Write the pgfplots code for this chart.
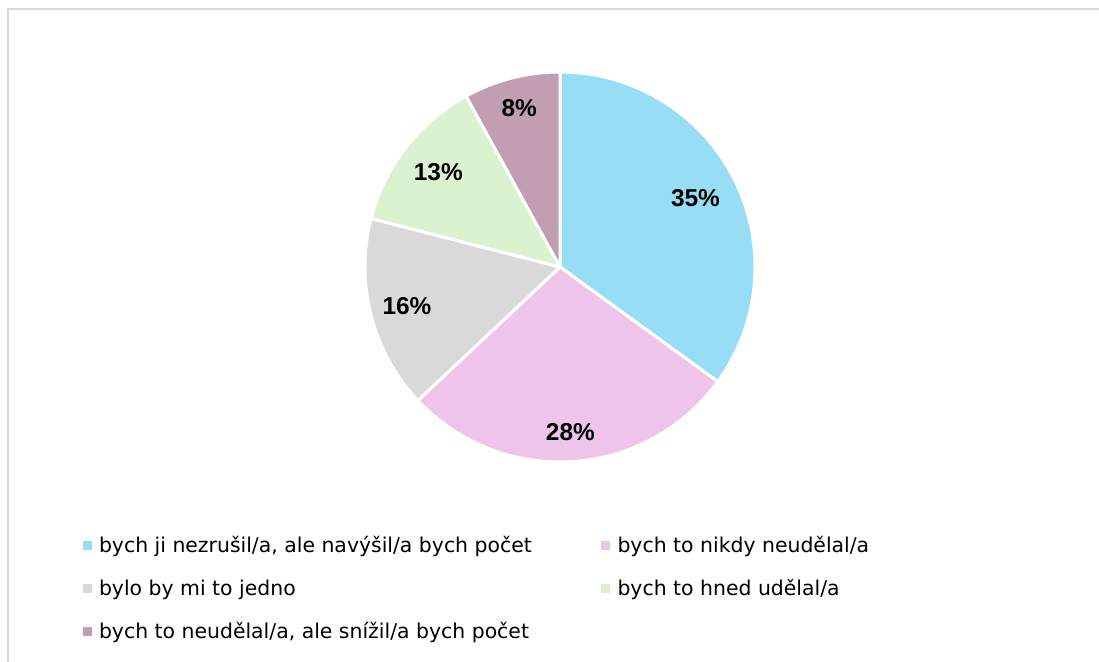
\documentclass[border=0pt]{standalone}
\usepackage{fontspec}
\setmainfont{Liberation Sans}
\newfontfamily\legendfam{DejaVu Sans}
\usepackage{pgfplots}
\usepackage{pgfplotstable}
\pgfplotsset{compat=1.18}

\definecolor{c0}{RGB}{151,221,245}
\definecolor{c1}{RGB}{238,196,234}
\definecolor{c2}{RGB}{217,217,217}
\definecolor{c3}{RGB}{218,242,208}
\definecolor{c4}{RGB}{193,158,177}
\definecolor{framegray}{RGB}{217,217,217}

% share (%) and relative radius of the data label
\pgfplotstableread{
idx value lr
0 35 0.78
1 28 0.85
2 16 0.81
3 13 0.79
4 8 0.84
}\piedata

\def\cum{0}
\pgfplotsforeachungrouped \i in {0,...,4}{%
  \pgfplotstablegetelem{\i}{value}\of\piedata
  \let\v\pgfplotsretval
  \pgfmathsetmacro\sa{90-3.6*\cum}%
  \pgfmathsetmacro\ea{90-3.6*(\cum+\v)}%
  \pgfmathsetmacro\ma{(\sa+\ea)/2}%
  \expandafter\xdef\csname sa\i\endcsname{\sa}%
  \expandafter\xdef\csname ea\i\endcsname{\ea}%
  \expandafter\xdef\csname ma\i\endcsname{\ma}%
  \expandafter\xdef\csname v\i\endcsname{\v}%
  \pgfplotstablegetelem{\i}{lr}\of\piedata
  \expandafter\xdef\csname lr\i\endcsname{\pgfplotsretval}%
  \pgfmathsetmacro\cum{\cum+\v}%
}

\pgfplotsset{sqlegend/.style={legend image code/.code={%
  \fill[##1] (0pt,-1.25pt) rectangle (4.5pt,3.25pt);
  \path (8.25pt,0pt);}}}

\begin{document}
\begin{tikzpicture}
\begin{axis}[
  hide axis,
  x=0.5pt, y=0.5pt,
  xmin=0, xmax=1099, ymin=0, ymax=662,
  clip=false,
  legend columns=2,
  legend cell align=left,
  legend style={
    draw=none, fill=none,
    at={(rel axis cs:0.0751,0.1888)}, anchor=north west,
    inner sep=0pt, outer sep=0pt,
    font=\legendfam\fontsize{10.2pt}{12pt}\selectfont,
    nodes={inner sep=0pt, text height=7.5pt, text depth=2.5pt},
    row sep=11.5pt, column sep=0pt,
  },
]
% frame
\draw[framegray, line width=1pt] (axis cs:7.5,-10) -- (axis cs:7.5,652.5) -- (axis cs:1110,652.5);

% slices
\pgfplotsinvokeforeach{0,...,4}{
  \filldraw[fill=c#1, draw=white, line width=1.5pt, line join=round]
    (axis cs:560,395) -- ([shift={(\csname sa#1\endcsname:97.5pt)}]axis cs:560,395)
    arc[start angle=\csname sa#1\endcsname, end angle=\csname ea#1\endcsname, radius=97.5pt] -- cycle;
}
\pgfplotsinvokeforeach{0,...,4}{
  \node[font=\bfseries\fontsize{12.2pt}{14pt}\selectfont, text=black]
    at ([shift={(\csname ma#1\endcsname:{\csname lr#1\endcsname*97.5pt})}]axis cs:560,395)
    {\csname v#1\endcsname\%};
}

\addlegendimage{sqlegend, fill=c0, draw=none}
\addlegendentry{\makebox[251pt][l]{bych ji nezrušil/a, ale navýšil/a bych počet}}
\addlegendimage{sqlegend, fill=c1, draw=none}
\addlegendentry{bych to nikdy neudělal/a}
\addlegendimage{sqlegend, fill=c2, draw=none}
\addlegendentry{\makebox[251pt][l]{bylo by mi to jedno}}
\addlegendimage{sqlegend, fill=c3, draw=none}
\addlegendentry{bych to hned udělal/a}
\addlegendimage{sqlegend, fill=c4, draw=none}
\addlegendentry{\makebox[251pt][l]{bych to neudělal/a, ale snížil/a bych počet}}
\end{axis}
\pgfresetboundingbox
\path[use as bounding box] (0,0) rectangle (549.5pt,331pt);
\end{tikzpicture}
\end{document}
